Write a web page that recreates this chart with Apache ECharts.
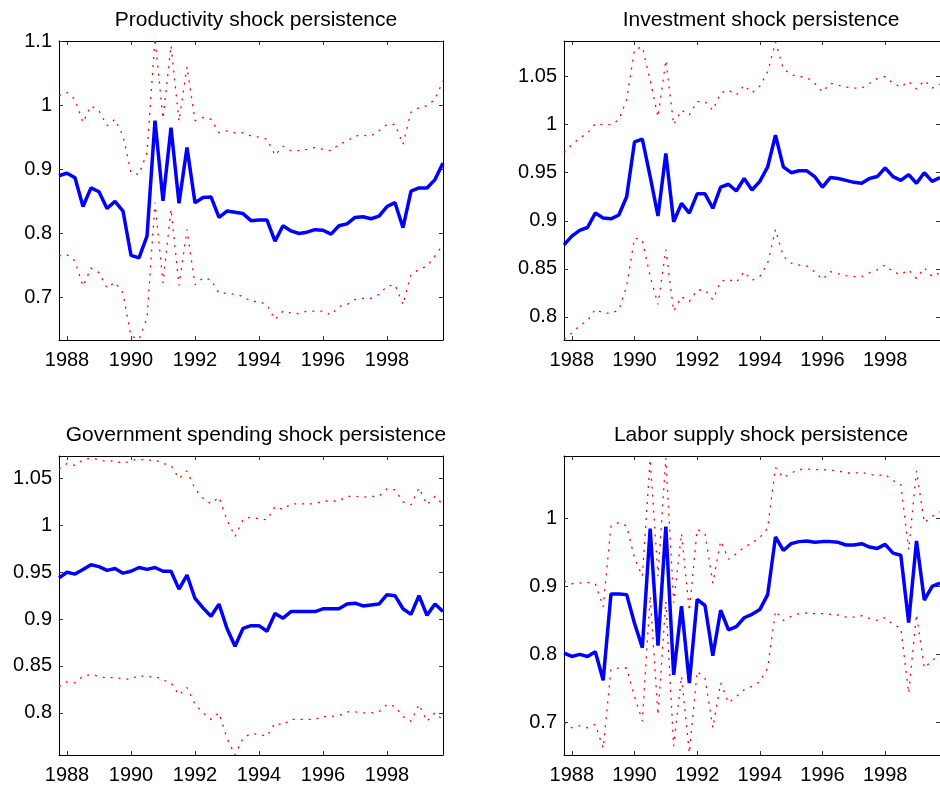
<!DOCTYPE html>
<html>
<head>
<meta charset="utf-8">
<script src="https://cdn.jsdelivr.net/npm/echarts@6.0.0/dist/echarts.min.js"></script>
<style>
  html, body { margin: 0; padding: 0; background: #fff; }
  #main { width: 940px; height: 789px; }
</style>
</head>
<body>
<div id="main"></div>
<script>
// quarterly dates, 1987Q4 .. 1999Q4
const quarters = [1987.75,
  1988, 1988.25, 1988.5, 1988.75, 1989, 1989.25, 1989.5, 1989.75,
  1990, 1990.25, 1990.5, 1990.75, 1991, 1991.25, 1991.5, 1991.75,
  1992, 1992.25, 1992.5, 1992.75, 1993, 1993.25, 1993.5, 1993.75,
  1994, 1994.25, 1994.5, 1994.75, 1995, 1995.25, 1995.5, 1995.75,
  1996, 1996.25, 1996.5, 1996.75, 1997, 1997.25, 1997.5, 1997.75,
  1998, 1998.25, 1998.5, 1998.75, 1999, 1999.25, 1999.5, 1999.75];
const yearTicks = [1988, 1990, 1992, 1994, 1996, 1998];

const titles = ['Productivity shock persistence', 'Investment shock persistence',
  'Government spending shock persistence', 'Labor supply shock persistence'];

// Productivity
const prodMean = [0.890,0.894,0.887,0.842,0.871,0.865,0.839,0.850,0.835,0.766,
  0.762,0.796,0.976,0.851,0.965,0.847,0.934,0.848,0.856,0.857,
  0.825,0.835,0.833,0.831,0.820,0.821,0.821,0.788,0.812,0.804,
  0.800,0.802,0.806,0.805,0.799,0.812,0.815,0.825,0.826,0.823,
  0.827,0.842,0.848,0.809,0.866,0.871,0.871,0.884,0.910];
const prodUpper = [1.015,1.020,1.009,0.973,0.999,0.991,0.968,0.978,0.952,0.895,
  0.892,0.926,1.104,0.979,1.093,0.975,1.060,0.976,0.981,0.978,
  0.957,0.960,0.957,0.957,0.952,0.950,0.947,0.922,0.936,0.929,
  0.929,0.931,0.934,0.931,0.929,0.939,0.944,0.952,0.953,0.952,
  0.960,0.970,0.970,0.939,0.989,0.996,0.999,1.009,1.038];
const prodLower = [0.765,0.767,0.757,0.718,0.746,0.739,0.715,0.724,0.707,0.640,
  0.635,0.668,0.848,0.723,0.838,0.719,0.806,0.720,0.731,0.728,
  0.707,0.707,0.705,0.702,0.694,0.694,0.689,0.666,0.679,0.676,
  0.675,0.679,0.679,0.679,0.673,0.686,0.689,0.697,0.699,0.699,
  0.705,0.718,0.720,0.689,0.736,0.744,0.749,0.765,0.783];

// Investment
const invMean = [0.875,0.884,0.890,0.893,0.908,0.903,0.902,0.906,0.925,0.982,
  0.985,0.946,0.905,0.970,0.899,0.918,0.908,0.928,0.928,0.913,
  0.935,0.938,0.931,0.944,0.932,0.941,0.956,0.989,0.956,0.950,
  0.952,0.952,0.946,0.935,0.945,0.944,0.942,0.940,0.939,0.944,
  0.946,0.955,0.946,0.942,0.948,0.939,0.950,0.941,0.945];
const invUpper = [0.971,0.979,0.986,0.991,1.001,1.000,1.000,1.005,1.026,1.078,
  1.081,1.046,1.008,1.067,1.000,1.015,1.010,1.024,1.024,1.015,
  1.033,1.036,1.031,1.041,1.033,1.040,1.055,1.086,1.058,1.052,
  1.050,1.049,1.043,1.034,1.043,1.041,1.039,1.038,1.038,1.043,
  1.048,1.050,1.043,1.039,1.045,1.037,1.046,1.038,1.042];
const invLower = [0.777,0.783,0.791,0.796,0.808,0.804,0.804,0.807,0.832,0.882,
  0.880,0.842,0.813,0.870,0.806,0.821,0.816,0.828,0.828,0.818,
  0.837,0.839,0.836,0.847,0.838,0.842,0.856,0.891,0.863,0.856,
  0.854,0.853,0.847,0.839,0.847,0.845,0.843,0.842,0.842,0.846,
  0.849,0.854,0.847,0.844,0.849,0.840,0.851,0.842,0.846];

// Government spending
const govMean = [0.944,0.950,0.948,0.953,0.958,0.956,0.952,0.954,0.949,0.951,
  0.955,0.953,0.955,0.951,0.951,0.932,0.947,0.922,0.912,0.903,
  0.916,0.890,0.871,0.890,0.893,0.893,0.887,0.906,0.901,0.908,
  0.908,0.908,0.908,0.911,0.911,0.911,0.916,0.917,0.914,0.915,
  0.916,0.926,0.925,0.911,0.905,0.925,0.904,0.916,0.908];
const govUpper = [1.060,1.066,1.064,1.070,1.072,1.070,1.068,1.069,1.066,1.069,
  1.071,1.069,1.070,1.066,1.064,1.050,1.058,1.039,1.029,1.023,
  1.030,1.006,0.988,1.006,1.009,1.007,1.006,1.020,1.017,1.023,
  1.023,1.023,1.023,1.026,1.026,1.026,1.031,1.031,1.030,1.031,
  1.031,1.039,1.038,1.025,1.022,1.040,1.022,1.031,1.022];
const govLower = [0.828,0.833,0.832,0.839,0.841,0.839,0.837,0.838,0.836,0.836,
  0.840,0.838,0.839,0.835,0.832,0.819,0.827,0.809,0.800,0.793,
  0.800,0.773,0.755,0.773,0.778,0.777,0.775,0.789,0.787,0.793,
  0.793,0.793,0.793,0.796,0.796,0.797,0.801,0.801,0.800,0.800,
  0.801,0.809,0.807,0.796,0.791,0.809,0.791,0.800,0.792];

// Labor supply
const labMean = [0.802,0.797,0.800,0.797,0.804,0.762,0.889,0.889,0.888,0.846,
  0.810,0.985,0.813,0.988,0.770,0.871,0.758,0.881,0.872,0.798,
  0.865,0.836,0.841,0.854,0.859,0.866,0.888,0.973,0.953,0.963,
  0.966,0.967,0.965,0.966,0.966,0.965,0.961,0.961,0.963,0.958,
  0.956,0.962,0.949,0.946,0.847,0.967,0.880,0.900,0.905];
const labUpper = [0.908,0.904,0.905,0.906,0.904,0.870,0.989,0.994,0.989,0.942,
  0.915,1.087,0.915,1.089,0.876,0.978,0.864,0.984,0.978,0.905,
  0.967,0.940,0.948,0.958,0.964,0.972,0.986,1.075,1.060,1.067,
  1.072,1.073,1.072,1.072,1.071,1.070,1.067,1.067,1.068,1.065,
  1.063,1.065,1.056,1.050,0.954,1.070,0.994,1.003,1.010];
const labLower = [0.699,0.692,0.695,0.692,0.697,0.662,0.778,0.780,0.780,0.738,
  0.702,0.886,0.711,0.878,0.665,0.768,0.655,0.775,0.765,0.692,
  0.758,0.729,0.738,0.748,0.753,0.760,0.780,0.864,0.850,0.856,
  0.860,0.861,0.860,0.860,0.859,0.858,0.855,0.855,0.857,0.853,
  0.850,0.854,0.844,0.839,0.743,0.859,0.780,0.791,0.800];

const yTicks = [
  [0.7, 0.8, 0.9, 1, 1.1],
  [0.8, 0.85, 0.9, 0.95, 1, 1.05],
  [0.8, 0.85, 0.9, 0.95, 1, 1.05],
  [0.7, 0.8, 0.9, 1]
];

const FONT = 'Liberation Sans, Arial, sans-serif';

const panels = [
  { left: 59,  top: 41,  yMin: 0.634, yMax: 1.1,   mean: prodMean, up: prodUpper, lo: prodLower },
  { left: 564, top: 41,  yMin: 0.776, yMax: 1.087, mean: invMean,  up: invUpper,  lo: invLower },
  { left: 59,  top: 456, yMin: 0.755, yMax: 1.074, mean: govMean,  up: govUpper,  lo: govLower },
  { left: 564, top: 456, yMin: 0.652, yMax: 1.092, mean: labMean,  up: labUpper,  lo: labLower }
];
const W = 384, H = 299;

function pairs(vals) {
  return quarters.map((q, i) => [q, vals[i]]);
}

const option = {
  animation: false,
  backgroundColor: '#fff',
  title: [], grid: [], xAxis: [], yAxis: [], series: []
};

panels.forEach((p, k) => {
  option.title.push({
    text: titles[k],
    left: p.left + W / 2,
    top: p.top - 36,
    textAlign: 'center',
    textStyle: { fontFamily: FONT, fontSize: 21, fontWeight: 'normal', color: '#000' }
  });
  option.grid.push({ left: p.left, top: p.top, width: W, height: H });

  const line = { show: true, onZero: false, lineStyle: { color: '#000', width: 1 } };
  const tickX = { show: true, inside: true, length: 4, customValues: yearTicks, lineStyle: { color: '#333' } };
  const tickY = { show: true, inside: true, length: 4, customValues: yTicks[k], lineStyle: { color: '#333' } };

  option.xAxis.push({
    type: 'value', gridIndex: k, min: 1987.75, max: 1999.75, position: 'bottom',
    axisLine: line, axisTick: tickX, splitLine: { show: false },
    axisLabel: { customValues: yearTicks, formatter: v => String(v),
      fontFamily: FONT, fontSize: 20, color: '#000', margin: 10 }
  });
  option.xAxis.push({
    type: 'value', gridIndex: k, min: 1987.75, max: 1999.75, position: 'top',
    axisLine: line, axisTick: tickX, splitLine: { show: false }, axisLabel: { show: false }
  });
  option.yAxis.push({
    type: 'value', gridIndex: k, min: p.yMin, max: p.yMax, position: 'left',
    axisLine: line, axisTick: tickY, splitLine: { show: false },
    axisLabel: { customValues: yTicks[k], formatter: v => String(v),
      fontFamily: FONT, fontSize: 20, color: '#000', margin: 7 }
  });
  option.yAxis.push({
    type: 'value', gridIndex: k, min: p.yMin, max: p.yMax, position: 'right',
    axisLine: line, axisTick: tickY, splitLine: { show: false }, axisLabel: { show: false }
  });

  const red = { color: '#ff0000', width: 1.3, type: [2, 6] };
  [p.up, p.lo].forEach(band => {
    option.series.push({
      type: 'line', xAxisIndex: 2 * k, yAxisIndex: 2 * k,
      data: pairs(band), showSymbol: false, silent: true,
      lineStyle: red, itemStyle: { color: '#ff0000' }
    });
  });
  option.series.push({
    type: 'line', xAxisIndex: 2 * k, yAxisIndex: 2 * k,
    data: pairs(p.mean), showSymbol: false, silent: true,
    lineStyle: { color: '#0000ff', width: 3.5 }, itemStyle: { color: '#0000ff' }
  });
});

const chart = echarts.init(document.getElementById('main'));
chart.setOption(option);
</script>
</body>
</html>
